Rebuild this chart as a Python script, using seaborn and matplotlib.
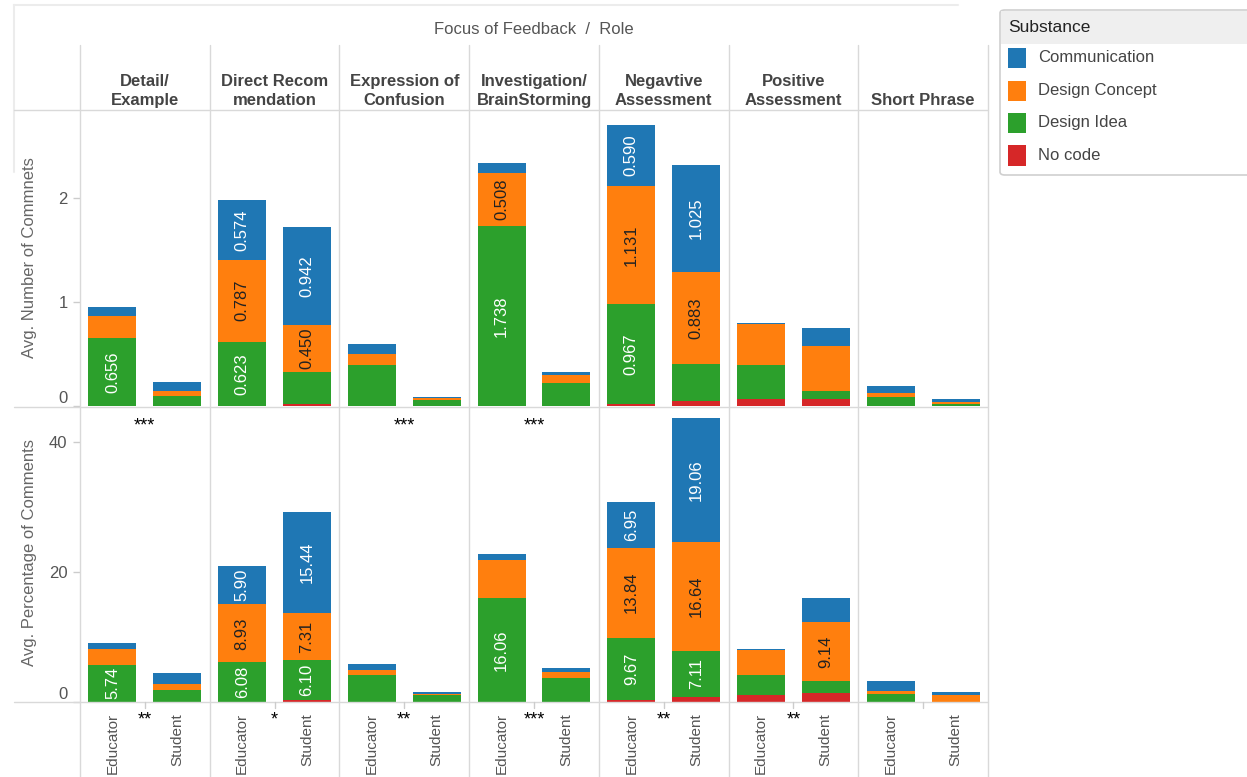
import matplotlib
matplotlib.use("Agg")
import matplotlib.pyplot as plt
from matplotlib.lines import Line2D
from matplotlib.patches import Rectangle, FancyBboxPatch
import pandas as pd
import seaborn as sns

# ---------------------------------------------------------------- data
focus = ["Detail/\nExample", "Direct Recom\nmendation", "Expression of\nConfusion",
         "Investigation/\nBrainStorming", "Negavtive\nAssessment", "Positive\nAssessment",
         "Short Phrase"]
roles = ["Educator", "Student"]
substances = ["Communication", "Design Concept", "Design Idea", "No code"]
stack_order = ["No code", "Design Idea", "Design Concept", "Communication"]  # bottom -> top
sub_colors = {"Communication": "#1f77b4", "Design Concept": "#ff7f0e",
              "Design Idea": "#2ca02c", "No code": "#d62728"}

# Avg. number of comments, [Educator, Student] for each focus
count_no_code = [[0.0, 0.0], [0.0, 0.02], [0.0, 0.004], [0.0, 0.0], [0.02, 0.05], [0.07, 0.07], [0.0, 0.0]]
count_idea = [[0.656, 0.10], [0.623, 0.316], [0.40, 0.055], [1.738, 0.228], [0.967, 0.36], [0.33, 0.077], [0.087, 0.02]]
count_concept = [[0.21, 0.047], [0.787, 0.450], [0.107, 0.018], [0.508, 0.073], [1.131, 0.883], [0.39, 0.436], [0.045, 0.02]]
count_comm = [[0.087, 0.093], [0.574, 0.942], [0.096, 0.014], [0.09, 0.033], [0.590, 1.025], [0.017, 0.174], [0.065, 0.03]]

# Avg. percentage of comments, [Educator, Student] for each focus
pct_no_code = [[0.0, 0.0], [0.0, 0.3], [0.0, 0.0], [0.0, 0.0], [0.25, 0.8], [1.0, 1.45], [0.0, 0.0]]
pct_idea = [[5.74, 1.9], [6.08, 6.10], [4.15, 1.15], [16.06, 3.75], [9.67, 7.11], [3.15, 1.75], [1.23, 0.05]]
pct_concept = [[2.35, 0.8], [8.93, 7.31], [0.73, 0.05], [5.85, 0.92], [13.84, 16.64], [3.8, 9.14], [0.47, 0.95]]
pct_comm = [[1.0, 1.8], [5.90, 15.44], [1.0, 0.3], [0.8, 0.56], [6.95, 19.06], [0.25, 3.6], [1.48, 0.47]]

# segments that carry a value label: (focus index, role index, substance)
count_labeled = [(0, 0, "Design Idea"),
                 (1, 0, "Design Idea"), (1, 0, "Design Concept"), (1, 0, "Communication"),
                 (1, 1, "Design Concept"), (1, 1, "Communication"),
                 (3, 0, "Design Idea"), (3, 0, "Design Concept"),
                 (4, 0, "Design Idea"), (4, 0, "Design Concept"), (4, 0, "Communication"),
                 (4, 1, "Design Concept"), (4, 1, "Communication")]
pct_labeled = [(0, 0, "Design Idea"),
               (1, 0, "Design Idea"), (1, 0, "Design Concept"), (1, 0, "Communication"),
               (1, 1, "Design Idea"), (1, 1, "Design Concept"), (1, 1, "Communication"),
               (3, 0, "Design Idea"),
               (4, 0, "Design Idea"), (4, 0, "Design Concept"), (4, 0, "Communication"),
               (4, 1, "Design Idea"), (4, 1, "Design Concept"), (4, 1, "Communication"),
               (5, 1, "Design Concept")]

# significance markers
pct_stars = ["***", "", "***", "***", "", "", ""]
role_stars = ["**", "*", "**", "***", "**", "**", ""]

panels = {
    "count": {"No code": count_no_code, "Design Idea": count_idea,
              "Design Concept": count_concept, "Communication": count_comm},
    "pct": {"No code": pct_no_code, "Design Idea": pct_idea,
            "Design Concept": pct_concept, "Communication": pct_comm},
}

rows = []
for panel, table in panels.items():
    for fi, f in enumerate(focus):
        for ri, r in enumerate(roles):
            running = 0.0
            for s in stack_order:
                v = table[s][fi][ri]
                rows.append(dict(panel=panel, focus=f, role=r, substance=s,
                                 value=v, base=running, top=running + v))
                running += v
df = pd.DataFrame(rows)

# ---------------------------------------------------------------- figure
sns.set_theme(style="white")
plt.rcParams["font.family"] = ["Liberation Sans", "DejaVu Sans"]

W, H = 1247, 777
fig = plt.figure(figsize=(W / 100, H / 100), dpi=100)
fig.patch.set_facecolor("white")


def fx(px):
    return px / W


def fy(py):
    return 1 - py / H


GRID = "#d9d9d9"
TXT = "#555555"
left, right = 80, 988
colw = (right - left) / len(focus)
panel_px = {"count": (110, 406.5), "pct": (406.5, 702)}
ylims = {"count": 2.85, "pct": 45.45}
yticks = {"count": [0, 1, 2], "pct": [0, 20, 40]}
fmt = {"count": "{:.3f}", "pct": "{:.2f}"}
labeled = {"count": count_labeled, "pct": pct_labeled}

for panel, (ytop, ybot) in panel_px.items():
    for fi, f in enumerate(focus):
        x0 = left + fi * colw
        ax = fig.add_axes([fx(x0), fy(ybot), colw / W, (ybot - ytop) / H])
        sub = df[(df.panel == panel) & (df.focus == f)]
        for s in reversed(stack_order):  # tallest cumulative first
            part = sub[sub.substance == s]
            sns.barplot(data=part, x="role", y="top", order=roles, color=sub_colors[s],
                        saturation=1, width=0.74, errorbar=None, linewidth=0, ax=ax)
        ax.set_xlim(-0.5, 1.5)
        ax.set_ylim(0, ylims[panel])
        ax.set_xlabel("")
        ax.set_ylabel("")
        for sp in ax.spines.values():
            sp.set_visible(False)
        ax.set_facecolor("none")

        # value labels inside segments
        for (lfi, lri, ls) in labeled[panel]:
            if lfi != fi:
                continue
            seg = sub[(sub.role == roles[lri]) & (sub.substance == ls)].iloc[0]
            col = "#222222" if ls == "Design Concept" else "white"
            ax.text(lri, seg.base + seg.value / 2, fmt[panel].format(seg.value),
                    rotation=90, ha="center", va="center", color=col, fontsize=12)

        if panel == "pct" and pct_stars[fi]:
            ax.text(0.5, (ybot - 426) / (ybot - ytop), pct_stars[fi], transform=ax.transAxes,
                    ha="center", va="center", fontsize=13, color="black")

        if fi == 0:
            ax.set_yticks(yticks[panel])
            ax.set_yticklabels([str(t) for t in yticks[panel]])
            ax.tick_params(axis="y", left=True, length=5, width=1, color="#cccccc",
                           labelsize=12, labelcolor=TXT, pad=4)
            for lbl in ax.get_yticklabels():
                if lbl.get_text() == "0":
                    lbl.set_va("bottom")
        else:
            ax.set_yticks([])

        if panel == "pct":
            ax.set_xticks([0, 1])
            ax.set_xticklabels(roles, rotation=90, va="top", ha="center",
                               fontsize=11, color=TXT)
            ax.tick_params(axis="x", bottom=False, pad=2)
        else:
            ax.set_xticks([])

# ---------------------------------------------------------------- grid / frame lines
def hline(y, x0, x1, color=GRID, lw=1.0):
    fig.add_artist(Line2D([fx(x0), fx(x1)], [fy(y), fy(y)], color=color, lw=lw))


def vline(x, y0, y1, color=GRID, lw=1.0):
    fig.add_artist(Line2D([fx(x), fx(x)], [fy(y0), fy(y1)], color=color, lw=lw))


hline(5, 14, 958, color="#ececec", lw=1.5)
vline(14, 5, 172, color="#ececec", lw=1.5)
for y in (110, 407, 702):
    hline(y, 14, right)
for i in range(len(focus) + 1):
    vline(left + i * colw, 45, 777)
for i in range(len(focus)):
    cx = left + (i + 0.5) * colw
    vline(cx, 702, 708, color="#cccccc")

# ---------------------------------------------------------------- headers
fig.text(fx((left + right) / 2), fy(29), "Focus of Feedback  /  Role", ha="center",
         va="center", fontsize=12, color=TXT)
for i, f in enumerate(focus):
    cx = left + (i + 0.5) * colw
    fig.text(fx(cx), fy(108), f, ha="center", va="bottom", fontsize=12,
             fontweight="bold", color="#444444", linespacing=1.3)

for i in range(len(focus)):
    if role_stars[i]:
        cx = left + (i + 0.5) * colw
        fig.text(fx(cx), fy(720), role_stars[i], ha="center", va="center",
                 fontsize=13, color="black")

fig.text(fx(30), fy(258), "Avg. Number of Commnets", rotation=90, ha="center",
         va="center", fontsize=12, color="#666666")
fig.text(fx(30), fy(553), "Avg. Percentage of Comments", rotation=90, ha="center",
         va="center", fontsize=12, color="#666666")

# ---------------------------------------------------------------- legend
fig.add_artist(FancyBboxPatch((fx(1000), fy(175)), fx(1300) - fx(1000), fy(10) - fy(175),
                              boxstyle="round,pad=0,rounding_size=0.004",
                              facecolor="white", edgecolor="#cfcfcf", lw=1.2,
                              transform=fig.transFigure))
fig.add_artist(Rectangle((fx(1001), fy(44)), fx(1300) - fx(1001), fy(11) - fy(44),
                         facecolor="#efefef", edgecolor="none", transform=fig.transFigure))
fig.text(fx(1008), fy(27), "Substance", ha="left", va="center", fontsize=12.5, color="#222222")
for k, s in enumerate(substances):
    yc = 58 + k * 32.5
    fig.add_artist(Rectangle((fx(1008), fy(yc + 10)), fx(1026) - fx(1008), fy(yc - 10) - fy(yc + 10),
                             facecolor=sub_colors[s], edgecolor="none", transform=fig.transFigure))
    fig.text(fx(1038), fy(yc), s, ha="left", va="center", fontsize=12, color="#444444")

fig.savefig("out.png", dpi=100, facecolor="white")
